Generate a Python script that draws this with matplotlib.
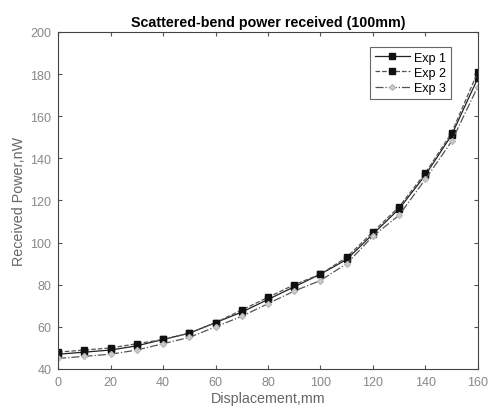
import matplotlib.pyplot as plt

plt.rcParams['font.family'] = ['Liberation Sans', 'DejaVu Sans']

disp = [0, 10, 20, 30, 40, 50, 60, 70, 80, 90, 100, 110, 120, 130, 140, 150, 160]
exp1 = [47, 48, 49, 51, 54, 57, 62, 67, 73, 79, 85, 92, 104, 116, 132, 151, 178]
exp2 = [48, 49, 50, 52, 54, 57, 62, 68, 74, 80, 85, 93, 105, 117, 133, 152, 181]
exp3 = [45, 46, 47, 49, 52, 55, 60, 65, 71, 77, 82, 90, 103, 113, 130, 148, 174]

fig = plt.figure(figsize=(4.89, 4.1), dpi=100)
ax = fig.add_axes([0.119, 0.0976, 0.858, 0.822])

ax.plot(disp, exp1, '-', color='#222222', lw=0.9, marker='s', ms=4, mfc='#111111', mec='#111111', label='Exp 1')
ax.plot(disp, exp2, '--', color='#555555', lw=0.9, marker='s', ms=4, mfc='#111111', mec='#111111', label='Exp 2')
ax.plot(disp, exp3, '-.', color='#555555', lw=0.9, marker='D', ms=3, mfc='#cccccc', mec='#bbbbbb', label='Exp 3')

ax.set_xlim(0, 160)
ax.set_ylim(40, 200)
ax.set_xticks(range(0, 161, 20))
ax.set_yticks(range(40, 201, 20))
ax.tick_params(direction='in', top=True, right=True, labelsize=9, labelcolor='#888888', color='#555555', length=3, pad=5)
for s in ax.spines.values():
    s.set_color('#444444')
    s.set_linewidth(0.8)

ax.set_title('Scattered-bend power received (100mm)', fontsize=10.3, fontweight='bold', pad=4)
ax.set_xlabel('Displacement,mm', fontsize=10.3, color='#666666', labelpad=2)
ax.set_ylabel('Received Power,nW', fontsize=10.3, color='#666666', labelpad=3)

leg = ax.legend(loc='upper right', fontsize=9, handlelength=2.8, handletextpad=0.3, borderpad=0.4,
                labelspacing=0.25, fancybox=False, framealpha=1, bbox_to_anchor=(0.95, 0.975))
leg.get_frame().set_edgecolor('#666666')
leg.get_frame().set_linewidth(0.8)

fig.savefig('out.png', dpi=100)
